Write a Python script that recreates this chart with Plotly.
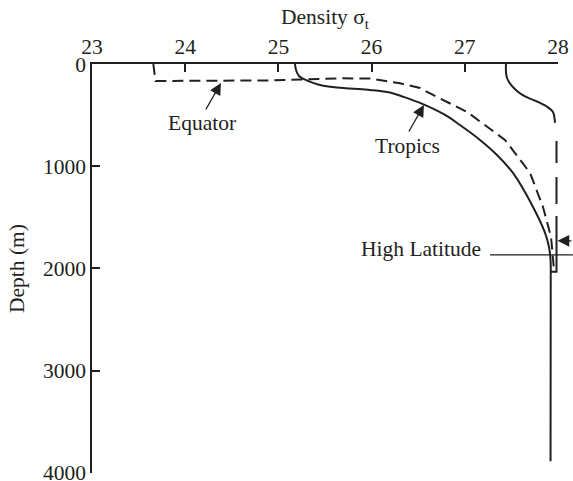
import plotly.graph_objects as go

# ---- data (density sigma_t, depth in m) ----
equator_density = [23.658, 23.676, 23.681, 24.910, 25.232, 25.661, 25.983, 26.305, 26.519,
                   26.659, 27.024, 27.431, 27.700, 27.839, 27.925, 27.946, 27.957]
equator_depth = [0, 98, 166, 161, 152, 140, 142, 189, 235,
                 303, 469, 743, 1066, 1399, 1692, 1888, 2015]

tropics_density = [25.178, 25.189, 25.221, 25.304, 25.425, 25.554, 25.768, 25.983, 26.197,
                   26.337, 26.545, 26.788, 26.948, 27.163, 27.345, 27.517, 27.732, 27.861,
                   27.903, 27.920, 27.922, 27.920]
tropics_depth = [0, 59, 117, 161, 200, 222, 240, 254, 279,
                 320, 391, 499, 597, 743, 890, 1066, 1399, 1653,
                 1790, 1917, 2112, 3889]

highlat_upper_density = [27.442, 27.442, 27.453, 27.496, 27.560, 27.646, 27.775, 27.882,
                         27.946, 27.962, 27.968]
highlat_upper_depth = [0, 78, 137, 205, 264, 318, 367, 418, 469, 528, 577]

highlat_lower_density = [27.984, 27.984, 27.984, 27.925]
highlat_lower_depth = [753, 1731, 2034, 2034]

x_ticks = [23, 24, 25, 26, 27, 28]
y_ticks = [0, 1000, 2000, 3000, 4000]

INK = "#231f20"
FONT = "Liberation Serif"
FS = 21.5

fig = go.Figure()
fig.add_trace(go.Scatter(x=equator_density, y=equator_depth, mode="lines",
                         line=dict(color=INK, width=2, dash="11px,6px"), hoverinfo="skip"))
fig.add_trace(go.Scatter(x=tropics_density, y=tropics_depth, mode="lines",
                         line=dict(color=INK, width=2), line_shape="spline", hoverinfo="skip"))
fig.add_trace(go.Scatter(x=highlat_upper_density, y=highlat_upper_depth, mode="lines",
                         line=dict(color=INK, width=2), line_shape="spline", hoverinfo="skip"))
fig.add_trace(go.Scatter(x=highlat_lower_density, y=highlat_lower_depth, mode="lines",
                         line=dict(color=INK, width=2, dash="22px,14px,27px,12px,300px"),
                         hoverinfo="skip"))

# annotations
arrow = dict(showarrow=True, arrowhead=2, arrowsize=1.8, arrowwidth=1.3, arrowcolor=INK, text="")
fig.add_annotation(x=24.384, y=186, ax=24.212, ay=460, xref="x", yref="y", axref="x", ayref="y", **arrow)
fig.add_annotation(x=24.180, y=580, text="Equator", showarrow=False,
                   font=dict(family=FONT, size=FS, color=INK))
fig.add_annotation(x=26.562, y=401, ax=26.391, ay=675, xref="x", yref="y", axref="x", ayref="y", **arrow)
fig.add_annotation(x=26.380, y=800, text="Tropics", showarrow=False,
                   font=dict(family=FONT, size=FS, color=INK))
fig.add_annotation(x=26.530, y=1812, text="High Latitude", showarrow=False,
                   font=dict(family=FONT, size=FS, color=INK))
fig.add_annotation(x=27.995, y=1731, ax=18, ay=0, xref="x", yref="y", **arrow)
fig.add_shape(type="line", xref="paper", yref="y", x0=0.854, x1=1.032, y0=1868, y1=1868,
              line=dict(color=INK, width=1.3))

fig.update_layout(
    width=573, height=481,
    margin=dict(l=92, r=15, t=64, b=8),
    paper_bgcolor="white", plot_bgcolor="white",
    showlegend=False,
    font=dict(family=FONT, size=FS, color=INK),
)
fig.update_xaxes(range=[23, 28], side="top", tickvals=x_ticks, ticks="inside", ticklen=8,
                 tickwidth=1.5, tickcolor=INK, showline=True, linecolor=INK, linewidth=1.5,
                 showgrid=False, zeroline=False, tickfont=dict(family=FONT, size=FS, color=INK),
                 ticklabeloverflow="allow", automargin=False,
                 title=dict(text="Density σ<sub>t</sub>", font=dict(family=FONT, size=FS, color=INK),
                            standoff=4))
fig.update_yaxes(range=[4003, 0], tickvals=y_ticks, ticks="inside", ticklen=8,
                 tickwidth=1.5, tickcolor=INK, showline=True, linecolor=INK, linewidth=1.5,
                 showgrid=False, zeroline=False, tickfont=dict(family=FONT, size=FS, color=INK),
                 ticklabeloverflow="allow", automargin=False,
                 title=dict(text="Depth (m)", font=dict(family=FONT, size=FS, color=INK),
                            standoff=12))

fig.write_html("out.html")
